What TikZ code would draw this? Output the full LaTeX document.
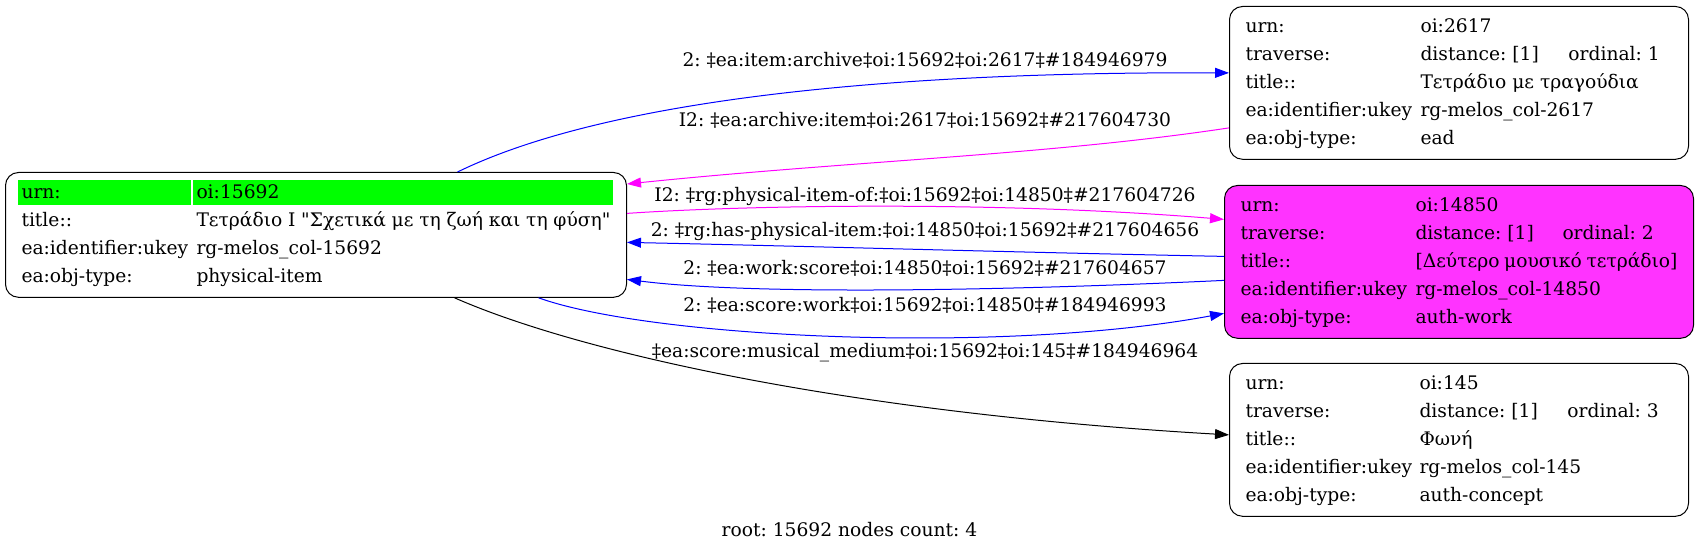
\documentclass[tikz,border=0pt]{standalone}
\usepackage{fontspec}
\setmainfont{DejaVu Serif}
\usetikzlibrary{arrows.meta,calc,backgrounds}
\definecolor{itemgreen}{RGB}{0,255,0}
\definecolor{workpink}{RGB}{255,51,255}
\definecolor{linkblue}{RGB}{0,0,255}
\definecolor{linkpink}{RGB}{255,0,255}
\newcommand{\recfont}{\fontsize{18.67}{28}\selectfont}
\newcommand{\edgefont}{\fontsize{18.67}{22}\selectfont}
\frenchspacing
\tikzset{
  rec/.style={draw, line width=1pt, rounded corners=13pt, inner xsep=16pt, inner ysep=6.4pt, anchor=north west, font=\recfont},
  elabel/.style={anchor=base, inner sep=0pt, font=\edgefont},
  link/.style={line width=1pt, -{Triangle[length=14pt,width=10pt]}},
}
\begin{document}
\begin{tikzpicture}[x=1pt,y=1pt]
\useasboundingbox (0,0) rectangle (1699,553);
% records
\node[rec] (root) at (5,381) {\begin{tabular}{@{}p{175pt}@{}p{414pt}@{}}
urn: & oi:15692\\
title:: & Τετράδιο I \textquotedbl Σχετικά με τη ζωή και τη φύση\textquotedbl\\
ea:identifier:ukey & rg-melos\_col-15692\\
ea:obj-type: & physical-item
\end{tabular}};
\node[rec] (b) at (1229,547) {\begin{tabular}{@{}p{175pt}@{}p{252pt}@{}}
urn: & oi:2617\\
traverse: & \makebox[148pt][l]{distance: [1]}ordinal: 1\\
title:: & Τετράδιο με τραγούδια\\
ea:identifier:ukey & rg-melos\_col-2617\\
ea:obj-type: & ead
\end{tabular}};
\node[rec, fill=workpink] (c) at (1224,368) {\begin{tabular}{@{}p{175pt}@{}p{262pt}@{}}
urn: & oi:14850\\
traverse: & \makebox[147pt][l]{distance: [1]}ordinal: 2\\
title:: & [Δεύτερο μουσικό τετράδιο]\\
ea:identifier:ukey & rg-melos\_col-14850\\
ea:obj-type: & auth-work
\end{tabular}};
\node[rec] (d) at (1229,190) {\begin{tabular}{@{}p{174pt}@{}p{253pt}@{}}
urn: & oi:145\\
traverse: & \makebox[148pt][l]{distance: [1]}ordinal: 3\\
title:: & Φωνή\\
ea:identifier:ukey & rg-melos\_col-145\\
ea:obj-type: & auth-concept
\end{tabular}};
\begin{pgfonlayer}{background}
\fill[itemgreen] ($(root.north west)+(13,-8)$) rectangle ($(root.north west)+(186,-33)$);
\fill[itemgreen] ($(root.north west)+(188,-8)$) rectangle ($(root.north west)+(608,-33)$);
\end{pgfonlayer}
% links
\draw[link, linkblue] ($(root.north)+(141.5,0)$) .. controls (640,470) and (1000,481) .. ($(b.west)+(0,10)$);
\draw[link, linkpink] ($(b.west)+(0,-45)$) .. controls (1050,398) and (850,392) .. ($(root.north east)+(0,-12)$);
\draw[link, linkpink] ($(root.east)+(0,21.5)$) .. controls (750,348) and (1000,352) .. ($(c.west)+(0,42.5)$);
\draw[link, linkblue] ($(c.west)+(0,5.5)$) .. controls (1000,301) and (800,307) .. ($(root.east)+(0,-7.5)$);
\draw[link, linkblue] ($(c.west)+(0,-18.5)$) .. controls (1000,262) and (750,258) .. ($(root.east)+(0,-44.5)$);
\draw[link, linkblue] ($(root.south)+(222.5,0)$) .. controls (650,215) and (1000,198) .. ($(c.west)+(0,-51.5)$);
\draw[link] ($(root.south)+(138.5,0)$) .. controls (580,200) and (850,140) .. ($(d.west)+(0,5)$);
% link labels
\node[elabel] (l1) at (925,486) {2: ‡ea:item:archive‡oi:15692‡oi:2617‡\#184946979};
\node[elabel] (l2) at (925,426) {I2: ‡ea:archive:item‡oi:2617‡oi:15692‡\#217604730};
\node[elabel] (l3) at (925,351) {I2: ‡rg:physical-item-of:‡oi:15692‡oi:14850‡\#217604726};
\node[elabel] (l4) at (925,316) {2: ‡rg:has-physical-item:‡oi:14850‡oi:15692‡\#217604656};
\node[elabel] (l5) at (925,278) {2: ‡ea:work:score‡oi:14850‡oi:15692‡\#217604657};
\node[elabel] (l6) at (925,241) {2: ‡ea:score:work‡oi:15692‡oi:14850‡\#184946993};
\node[elabel] (l7) at (925,195) {‡ea:score:musical\_medium‡oi:15692‡oi:145‡\#184946964};
\node[elabel] (cap) at (849.5,16) {root: 15692 nodes count: 4};
\end{tikzpicture}
\end{document}
